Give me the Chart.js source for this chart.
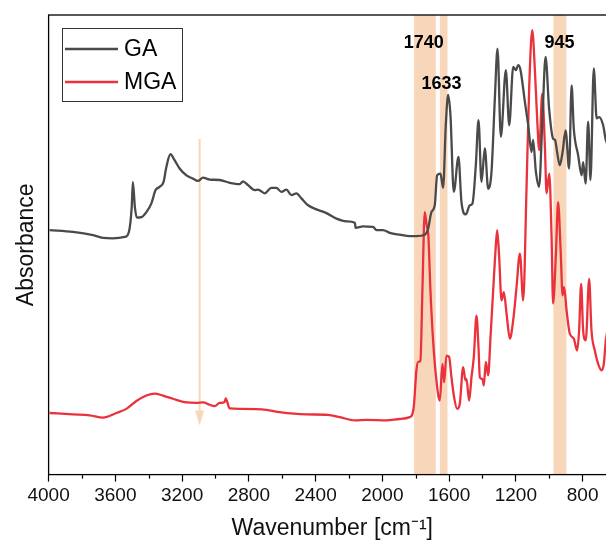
<!DOCTYPE html>
<html>
<head>
<meta charset="utf-8">
<script src="https://cdn.jsdelivr.net/npm/chart.js@4.4.0/dist/chart.umd.min.js"></script>
<style>
  html, body { margin: 0; padding: 0; background: #fff; overflow: hidden; }
  #wrap { width: 640px; height: 544px; }
</style>
</head>
<body>
<div id="wrap"><canvas id="ftir" width="640" height="544"></canvas></div>
<script>
// ---------- data (wavenumber in cm-1, absorbance in a.u., offset spectra) ----------
const gaWavenumber = [3994, 3854, 3734, 3674, 3615, 3544, 3519, 3502, 3495, 3483, 3471, 3444, 3414, 3384, 3359, 3335, 3311, 3294, 3270, 3245,
  3215, 3174, 3135, 3105, 3075, 3035, 2975, 2915, 2855, 2835, 2805, 2765, 2745, 2705, 2665, 2635, 2605, 2575, 2545, 2515,
  2485, 2445, 2395, 2335, 2275, 2215, 2165, 2160, 2116, 2056, 2035, 1996, 1956, 1896, 1836, 1796, 1746, 1726, 1706, 1686,
  1672, 1652, 1636, 1620, 1606, 1592, 1572, 1544, 1526, 1500, 1476, 1460, 1440, 1424, 1406, 1386, 1366, 1346, 1326, 1310,
  1290, 1260, 1240, 1216, 1200, 1186, 1172, 1146, 1126, 1106, 1097, 1080, 1061, 1040, 1022, 1001, 977, 965, 953, 937,
  920, 902, 881, 866, 853, 827, 806, 797, 782, 767, 753, 733, 716, 701, 677, 661, 640, 600];
const gaAbsorbance = [0.532, 0.528, 0.521, 0.515, 0.514, 0.517, 0.528, 0.582, 0.637, 0.582, 0.559, 0.560, 0.571, 0.590, 0.619, 0.626, 0.637, 0.670, 0.697, 0.684,
  0.666, 0.651, 0.644, 0.639, 0.646, 0.642, 0.641, 0.635, 0.632, 0.638, 0.630, 0.619, 0.620, 0.612, 0.624, 0.624, 0.615, 0.620, 0.608, 0.612,
  0.601, 0.586, 0.577, 0.569, 0.557, 0.551, 0.548, 0.537, 0.540, 0.539, 0.532, 0.532, 0.526, 0.522, 0.519, 0.519, 0.522, 0.535, 0.571, 0.586,
  0.651, 0.655, 0.624, 0.760, 0.826, 0.782, 0.615, 0.691, 0.593, 0.566, 0.586, 0.590, 0.673, 0.771, 0.637, 0.710, 0.622, 0.659, 0.818, 0.927,
  0.735, 0.880, 0.760, 0.887, 0.880, 0.891, 0.880, 0.811, 0.760, 0.702, 0.728, 0.659, 0.626, 0.782, 0.909, 0.797, 0.731, 0.728, 0.702, 0.673,
  0.702, 0.749, 0.666, 0.847, 0.753, 0.695, 0.651, 0.680, 0.633, 0.768, 0.641, 0.884, 0.775, 0.778, 0.760, 0.728, 0.710, 0.700];

const mgaWavenumber = [3994, 3854, 3754, 3674, 3594, 3534, 3474, 3414, 3365, 3315, 3255, 3174, 3115, 3075, 3035, 3005, 2975, 2945, 2939, 2915,
  2855, 2695, 2615, 2455, 2326, 2255, 2165, 2095, 1975, 1896, 1836, 1812, 1796, 1786, 1772, 1760, 1746, 1736, 1724, 1712,
  1696, 1676, 1656, 1640, 1630, 1616, 1600, 1586, 1570, 1552, 1536, 1516, 1502, 1496, 1480, 1466, 1452, 1436, 1424, 1416,
  1400, 1392, 1380, 1366, 1352, 1336, 1322, 1312, 1300, 1286, 1272, 1256, 1236, 1216, 1196, 1176, 1156, 1136, 1120, 1102,
  1086, 1072, 1060, 1042, 1026, 1016, 1000, 986, 977, 960, 947, 931, 920, 911, 896, 877, 853, 833, 821, 809,
  797, 781, 761, 747, 727, 707, 687, 673, 661, 640, 600];
const mgaAbsorbance = [0.134, 0.131, 0.129, 0.124, 0.134, 0.143, 0.160, 0.172, 0.176, 0.172, 0.165, 0.157, 0.156, 0.157, 0.152, 0.149, 0.156, 0.158, 0.166, 0.144,
  0.143, 0.141, 0.136, 0.131, 0.130, 0.125, 0.118, 0.119, 0.118, 0.121, 0.125, 0.147, 0.227, 0.245, 0.248, 0.401, 0.571, 0.546, 0.517, 0.401,
  0.292, 0.205, 0.161, 0.241, 0.201, 0.259, 0.256, 0.212, 0.168, 0.143, 0.154, 0.234, 0.205, 0.208, 0.161, 0.212, 0.256, 0.346, 0.277, 0.212,
  0.208, 0.194, 0.245, 0.216, 0.299, 0.401, 0.488, 0.532, 0.473, 0.379, 0.397, 0.351, 0.296, 0.336, 0.408, 0.481, 0.379, 0.626, 0.844, 0.967,
  0.880, 0.771, 0.706, 0.829, 0.713, 0.612, 0.655, 0.517, 0.372, 0.481, 0.593, 0.481, 0.390, 0.408, 0.357, 0.307, 0.296, 0.270, 0.314, 0.415,
  0.314, 0.292, 0.426, 0.314, 0.270, 0.241, 0.227, 0.241, 0.292, 0.330, 0.350];

const seriesLabels = ['GA', 'MGA'];
const seriesColors = ['#4a4a4a', '#ea323c'];

// highlighted bands [from, to] and their labels
const bandRanges = [[1810, 1680], [1656, 1610], [975, 897]];
const bandLabels = ['1740', '1633', '945'];
const bandLabelX = [1752, 1646, 939];
const bandLabelY = [0.939, 0.850, 0.939];

// arrow (wavenumber, from absorbance to absorbance)
const arrowAt = 3095;
const arrowFrom = 0.730;
const arrowTo = 0.107;

const xTicks = [800, 1200, 1600, 2000, 2400, 2800, 3200, 3600, 4000];
const peach = '#f8d6ba';
const FONT = "'Liberation Sans', Arial, sans-serif";

const toPoints = (xs, ys) => xs.map((x, i) => ({ x: x, y: ys[i] }));

// bands + arrow under the spectra
const bandPlugin = {
  id: 'bands',
  beforeDatasetsDraw(chart) {
    const { ctx, chartArea: a, scales: { x, y } } = chart;
    ctx.save();
    ctx.fillStyle = peach;
    bandRanges.forEach(([hi, lo]) => {
      const x1 = x.getPixelForValue(hi), x2 = x.getPixelForValue(lo);
      ctx.fillRect(x1, a.top, x2 - x1, a.bottom - a.top);
    });
    // arrow
    const ax = x.getPixelForValue(arrowAt);
    const y1 = y.getPixelForValue(arrowFrom), y2 = y.getPixelForValue(arrowTo);
    ctx.strokeStyle = peach;
    ctx.lineWidth = 2;
    ctx.beginPath();
    ctx.moveTo(ax, y1);
    ctx.lineTo(ax, y2 - 12);
    ctx.stroke();
    ctx.beginPath();
    ctx.moveTo(ax - 4.5, y2 - 15);
    ctx.lineTo(ax + 4.5, y2 - 15);
    ctx.lineTo(ax, y2);
    ctx.closePath();
    ctx.fill();
    ctx.restore();
  }
};

// frame, minor ticks, band labels, legend
const overlayPlugin = {
  id: 'overlay',
  afterDraw(chart) {
    const { ctx, chartArea: a, scales: { x, y } } = chart;
    ctx.save();
    ctx.strokeStyle = '#000';
    ctx.lineWidth = 1.3;
    ctx.strokeRect(a.left, a.top, a.right - a.left, a.bottom - a.top);

    // minor ticks
    ctx.lineWidth = 1.2;
    for (let v = 1000; v < 4000; v += 400) {
      const px = Math.round(x.getPixelForValue(v)) + 0.5;
      ctx.beginPath();
      ctx.moveTo(px, a.bottom);
      ctx.lineTo(px, a.bottom + 4);
      ctx.stroke();
    }

    // band labels
    ctx.fillStyle = '#000';
    ctx.font = 'bold 18px ' + FONT;
    ctx.textAlign = 'center';
    ctx.textBaseline = 'middle';
    bandLabels.forEach((t, i) => {
      ctx.fillText(t, x.getPixelForValue(bandLabelX[i]), y.getPixelForValue(bandLabelY[i]));
    });

    // legend box
    const lx = 62, ly = 28, lw = 120, lh = 73;
    ctx.fillStyle = '#fff';
    ctx.fillRect(lx, ly, lw, lh);
    ctx.strokeStyle = '#333';
    ctx.lineWidth = 1;
    ctx.strokeRect(lx + 0.5, ly + 0.5, lw, lh);
    ctx.font = '23px ' + FONT;
    ctx.textAlign = 'left';
    seriesLabels.forEach((lab, i) => {
      const cy = ly + 21 + i * 33;
      ctx.strokeStyle = seriesColors[i];
      ctx.lineWidth = 2.5;
      ctx.beginPath();
      ctx.moveTo(lx + 3, cy);
      ctx.lineTo(lx + 56, cy);
      ctx.stroke();
      ctx.fillStyle = '#000';
      ctx.fillText(lab, lx + 62, cy + 1);
    });
    ctx.restore();
  }
};

new Chart(document.getElementById('ftir'), {
  type: 'line',
  data: {
    datasets: [
      { label: seriesLabels[0], data: toPoints(gaWavenumber, gaAbsorbance), borderColor: seriesColors[0] },
      { label: seriesLabels[1], data: toPoints(mgaWavenumber, mgaAbsorbance), borderColor: seriesColors[1] }
    ]
  },
  options: {
    responsive: false,
    animation: false,
    events: [],
    layout: { padding: { top: 15, right: 24, left: 13, bottom: 0 } },
    elements: {
      point: { radius: 0 },
      line: { borderWidth: 2.3, cubicInterpolationMode: 'monotone' }
    },
    plugins: {
      legend: { display: false },
      tooltip: { enabled: false }
    },
    scales: {
      x: {
        type: 'linear',
        reverse: true,
        min: 600,
        max: 4000,
        afterBuildTicks: (scale) => { scale.ticks = xTicks.map(v => ({ value: v })); },
        ticks: { font: { family: FONT, size: 19 }, color: '#111', padding: 3, maxRotation: 0, autoSkip: false,
          callback: (v) => String(v) },
        grid: { drawOnChartArea: false, tickLength: 7, color: '#000', tickWidth: 1.2 },
        border: { display: false },
        title: { display: true, text: 'Wavenumber [cm\u207B\u00B9]', font: { family: FONT, size: 23 }, color: '#111', padding: { top: 4, bottom: 2 } }
      },
      y: {
        min: 0,
        max: 1,
        ticks: { display: false },
        grid: { display: false },
        border: { display: false },
        title: { display: true, text: 'Absorbance', font: { family: FONT, size: 23 }, color: '#111', padding: { top: 0, bottom: 0 } }
      }
    }
  },
  plugins: [bandPlugin, overlayPlugin]
});
</script>
</body>
</html>
